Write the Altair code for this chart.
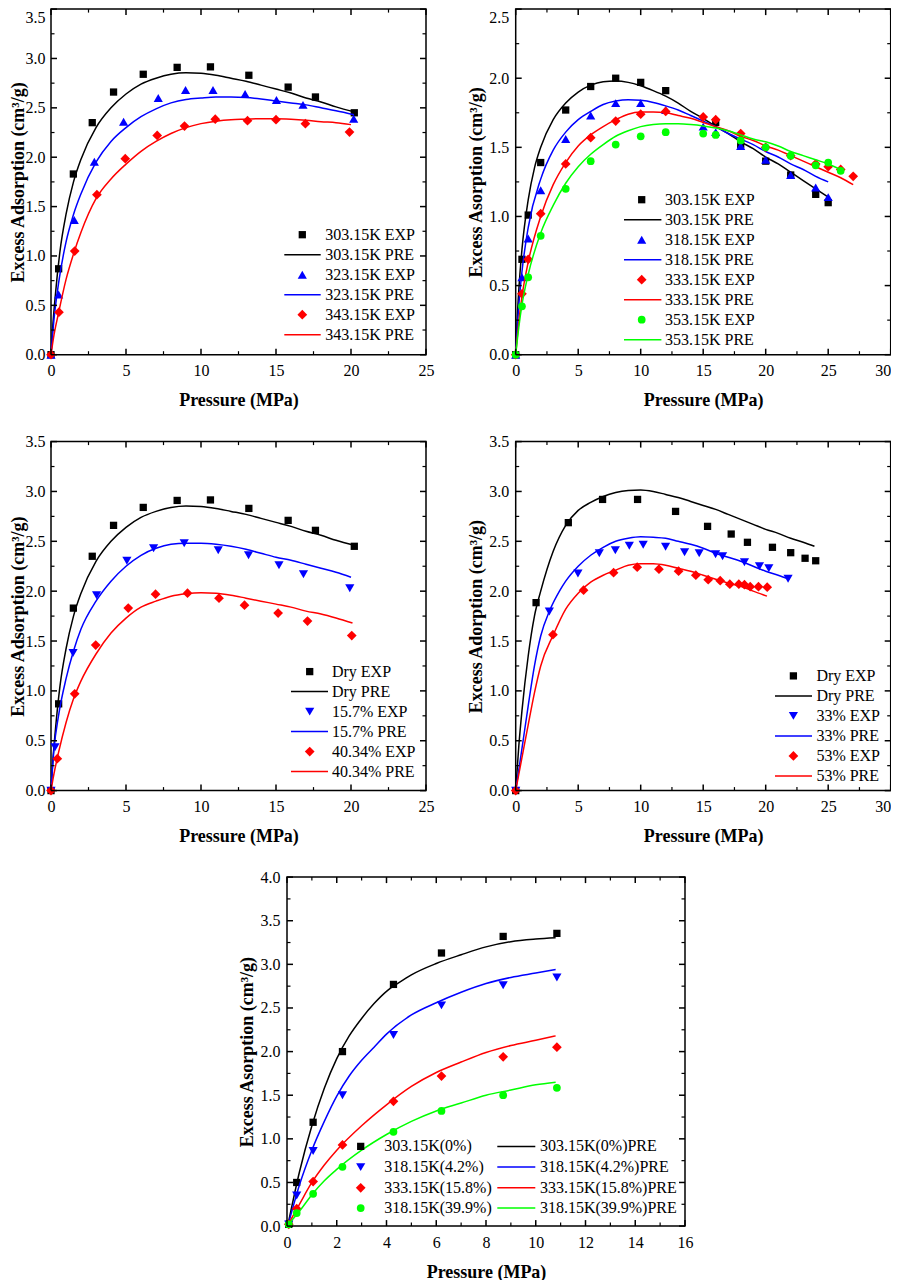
import altair as alt
import pandas as pd

FONT = "Liberation Serif"
BLACK, BLUE, RED, GREEN = "#000000", "#0000ff", "#ff0000", "#00ff00"

# ---------- Panel 1 ----------
P1_E303 = [(0,0),(.51,.87),(1.49,1.83),(2.75,2.35),(4.17,2.66),(6.15,2.84),(8.41,2.91),(10.63,2.915),(13.19,2.83),(15.81,2.71),(17.63,2.61),(20.22,2.45)]
P1_E323 = [(0,0),(.51,.61),(1.55,1.365),(2.89,1.955),(4.84,2.36),(7.15,2.60),(8.97,2.68),(10.8,2.68),(12.94,2.64),(15.03,2.58),(16.8,2.53),(20.18,2.39)]
P1_E343 = [(0,0),(.53,.43),(1.58,1.05),(3.06,1.62),(4.95,1.985),(7.08,2.22),(8.9,2.315),(10.95,2.385),(13.1,2.37),(15.0,2.38),(16.96,2.34),(19.9,2.255)]
P1_C303 = [(0,0),(.1,.25),(.3,.62),(.6,1.05),(1,1.42),(1.5,1.75),(2,1.98),(3,2.3),(4,2.5),(5,2.64),(6,2.74),(7,2.8),(8,2.84),(9,2.855),(10,2.85),(11,2.83),(12,2.8),(13,2.77),(14,2.73),(15,2.69),(16,2.65),(17,2.6),(18,2.56),(19,2.51),(20.2,2.46)]
P1_C323 = [(0,0),(.2,.36),(.5,.72),(1,1.14),(1.5,1.42),(2,1.63),(3,1.95),(4,2.16),(5,2.3),(6,2.41),(7,2.49),(8,2.55),(9,2.585),(10,2.6),(11,2.61),(12,2.61),(13,2.605),(14,2.59),(15,2.57),(16,2.55),(17,2.53),(18,2.5),(19,2.47),(20.2,2.43)]
P1_C343 = [(0,0),(.2,.2),(.5,.42),(1,.76),(1.5,1.02),(2,1.24),(3,1.58),(4,1.78),(5,1.93),(6,2.06),(7,2.16),(8,2.24),(9,2.3),(10,2.34),(11,2.365),(12,2.38),(13,2.385),(14,2.39),(15,2.39),(16,2.385),(17,2.375),(18,2.36),(19,2.35),(20,2.33)]

# ---------- Panel 2 ----------
P2_E303 = [(0,0),(.5,.69),(1,1.01),(2,1.39),(4,1.77),(6,1.94),(8,2.0),(10,1.97),(12,1.91),(16,1.68),(18,1.52),(20,1.40),(22,1.30),(24,1.16),(25,1.10)]
P2_E318 = [(0,0),(.5,.56),(1,.84),(2,1.19),(4,1.56),(6,1.73),(8,1.82),(10,1.82),(12,1.77),(15,1.65),(16,1.61),(18,1.51),(20,1.41),(22,1.30),(24,1.21),(25,1.14)]
P2_E333 = [(0,0),(.5,.44),(1,.69),(2,1.02),(4,1.38),(6,1.57),(8,1.69),(10,1.74),(12,1.76),(15,1.72),(16,1.70),(18,1.60),(20,1.50),(22,1.44),(24,1.38),(25,1.36),(26,1.34),(27,1.29)]
P2_E353 = [(0,0),(.5,.35),(1,.56),(2,.86),(4,1.20),(6,1.40),(8,1.52),(10,1.58),(12,1.61),(15,1.60),(16,1.59),(18,1.55),(20,1.50),(22,1.44),(24,1.37),(25,1.39),(26,1.33)]
P2_C303 = [(0,0),(.1,.22),(.25,.47),(.5,.76),(1,1.12),(1.5,1.35),(2,1.5),(3,1.7),(4,1.82),(5,1.9),(6,1.95),(7,1.975),(8,1.98),(9,1.97),(10,1.945),(11,1.91),(12,1.87),(13,1.82),(14,1.76),(15,1.71),(16,1.65),(17,1.6),(18,1.54),(19,1.49),(20,1.43),(21,1.38),(22,1.32),(23,1.26),(24,1.2),(25,1.14)]
P2_C318 = [(0,0),(.25,.36),(.5,.6),(1,.92),(2,1.27),(3,1.48),(4,1.61),(5,1.7),(6,1.76),(7,1.81),(8,1.835),(9,1.845),(10,1.84),(11,1.825),(12,1.8),(13,1.77),(14,1.73),(15,1.69),(16,1.65),(17,1.6),(18,1.56),(19,1.52),(20,1.47),(21,1.43),(22,1.38),(23,1.34),(24,1.29),(25,1.25)]
P2_C333 = [(0,0),(.25,.24),(.5,.42),(1,.67),(2,1.0),(3,1.23),(4,1.39),(5,1.51),(6,1.59),(7,1.65),(8,1.7),(9,1.74),(10,1.755),(11,1.755),(12,1.75),(13,1.73),(14,1.71),(15,1.68),(16,1.65),(17,1.62),(18,1.58),(19,1.55),(20,1.51),(21,1.48),(22,1.44),(23,1.4),(24,1.36),(25,1.32),(26,1.28),(27,1.23)]
P2_C353 = [(0,0),(.25,.2),(.5,.36),(1,.58),(2,.88),(3,1.08),(4,1.24),(5,1.36),(6,1.45),(7,1.52),(8,1.58),(9,1.62),(10,1.65),(11,1.665),(12,1.67),(13,1.67),(14,1.665),(15,1.655),(16,1.64),(17,1.62),(18,1.59),(19,1.56),(20,1.54),(21,1.51),(22,1.47),(23,1.44),(24,1.41),(25,1.38),(26,1.34)]

# ---------- Panel 3 ----------
P3_E157 = [(0,0),(.27,.435),(1.47,1.38),(3.04,1.96),(5.06,2.305),(6.84,2.43),(8.88,2.48),(11.15,2.41),(13.17,2.36),(15.2,2.26),(16.83,2.17),(19.92,2.03)]
P3_E403 = [(0,0),(.42,.32),(1.58,.97),(2.98,1.46),(5.15,1.83),(6.97,1.97),(9.1,1.98),(11.2,1.93),(12.9,1.86),(15.14,1.78),(17.1,1.70),(20.05,1.555)]
P3_C157 = [(0,0),(.2,.42),(.5,.75),(1,1.12),(1.5,1.4),(2,1.62),(3,1.9),(4,2.1),(5,2.25),(6,2.36),(7,2.43),(8,2.47),(9,2.48),(10,2.48),(11,2.47),(12,2.45),(13,2.42),(14,2.38),(15,2.34),(16,2.31),(17,2.27),(18,2.23),(19,2.19),(20,2.14)]
P3_C403 = [(0,0),(.2,.17),(.5,.38),(1,.68),(1.5,.92),(2,1.1),(3,1.37),(4,1.58),(5,1.73),(6,1.84),(7,1.9),(8,1.95),(9,1.975),(10,1.985),(11,1.98),(12,1.96),(13,1.93),(14,1.9),(15,1.87),(16,1.84),(17,1.8),(18,1.77),(19,1.73),(20.1,1.68)]

# ---------- Panel 4 ----------
P4_EDRY = [(0,0),(1.63,1.885),(4.21,2.687),(6.95,2.92),(9.75,2.92),(12.79,2.80),(15.35,2.65),(17.24,2.573),(18.54,2.49),(20.54,2.44),(22.0,2.386),(23.15,2.33),(24.0,2.305)]
P4_E33 = [(0,0),(2.69,1.797),(4.98,2.178),(6.69,2.38),(7.97,2.41),(9.09,2.456),(10.2,2.466),(11.99,2.446),(13.51,2.39),(14.68,2.38),(15.99,2.37),(16.55,2.35),(18.3,2.29),(19.5,2.25),(20.25,2.23),(21.79,2.125)]
P4_E53 = [(0,0),(2.98,1.563),(5.43,2.01),(7.83,2.185),(9.72,2.24),(11.46,2.22),(13.03,2.2),(14.41,2.16),(15.4,2.115),(16.36,2.105),(17.13,2.07),(17.85,2.07),(18.3,2.065),(18.76,2.045),(19.42,2.045),(20.12,2.04)]
P4_CDRY = [(0,0),(.25,.45),(.5,.8),(1,1.35),(1.5,1.75),(2,2.0),(3,2.4),(4,2.66),(5,2.81),(6,2.89),(7,2.95),(8,2.99),(9,3.01),(10,3.015),(11,3.0),(12,2.97),(13,2.94),(14,2.9),(15,2.86),(16,2.82),(17,2.77),(18,2.72),(19,2.67),(20,2.62),(21,2.58),(22,2.53),(23,2.49),(23.9,2.45)]
P4_C33 = [(0,0),(.5,.42),(1,.85),(1.5,1.25),(2,1.55),(2.7,1.8),(3.5,2.0),(4,2.1),(5,2.25),(6,2.36),(7,2.44),(8,2.5),(9,2.53),(10,2.545),(11,2.54),(12,2.53),(13,2.5),(14,2.47),(15,2.43),(16,2.38),(17,2.34),(18,2.3),(19,2.25),(20,2.2),(21,2.16),(21.9,2.12)]
P4_C53 = [(0,0),(.5,.33),(1,.66),(1.5,.98),(2,1.25),(3,1.56),(4,1.82),(5,1.98),(6,2.09),(7,2.16),(8,2.21),(9,2.26),(10,2.275),(11,2.275),(12,2.26),(13,2.23),(14,2.2),(15,2.16),(16,2.12),(17,2.08),(18,2.05),(19,2.0),(20.1,1.95)]

# ---------- Panel 5 ----------
P5_E0 = [(.07,.02),(.39,.5),(1.05,1.19),(2.23,2.0),(4.28,2.77),(6.21,3.13),(8.69,3.32),(10.85,3.355)]
P5_E42 = [(.07,.02),(.39,.35),(1.05,.86),(2.23,1.5),(4.28,2.19),(6.21,2.53),(8.69,2.76),(10.85,2.85)]
P5_E158 = [(.07,.02),(.39,.2),(1.05,.51),(2.23,.93),(4.28,1.43),(6.21,1.72),(8.69,1.94),(10.85,2.05)]
P5_E399 = [(.07,.02),(.39,.15),(1.05,.37),(2.23,.68),(4.28,1.08),(6.21,1.32),(8.69,1.5),(10.85,1.585)]
P5_C0 = [(.05,.03),(.5,.62),(1,1.15),(1.5,1.58),(2,1.92),(2.5,2.18),(3,2.38),(3.5,2.55),(4,2.69),(4.5,2.79),(5,2.88),(6,3.01),(7,3.11),(8,3.2),(9,3.26),(10,3.29),(10.8,3.305)]
P5_C42 = [(.05,.02),(.5,.47),(1,.87),(1.5,1.2),(2,1.49),(2.5,1.72),(3,1.9),(3.5,2.05),(4,2.2),(5,2.42),(6,2.56),(7,2.68),(8,2.78),(9,2.85),(10,2.9),(10.8,2.94)]
P5_C158 = [(.05,.02),(.5,.25),(1,.5),(1.5,.7),(2,.87),(3,1.15),(4,1.39),(5,1.6),(6,1.76),(7,1.88),(8,1.99),(9,2.07),(10,2.13),(10.8,2.18)]
P5_C399 = [(.05,.02),(.5,.17),(1,.36),(1.5,.52),(2,.65),(3,.87),(4,1.05),(5,1.2),(6,1.32),(7,1.41),(8,1.5),(9,1.56),(10,1.62),(10.8,1.65)]

SIZES = {"square": 53, "triangle-up": 84, "triangle-down": 84, "diamond": 95, "circle": 60}


def rows(pts):
    return pd.DataFrame(pts, columns=["x", "y"])


def seq(step, stop):
    n = int(round(stop / step))
    return [round(i * step, 3) for i in range(n + 1)]


def panel(xmax, xstep, ymax, ytitle, series, legend, w=375, h=349, title_pad=3.5, label_pad=7, top_flush=False):
    xs = alt.Scale(domain=[0, xmax], nice=False, zero=False)
    ys = alt.Scale(domain=[0, ymax], nice=False, zero=False)
    layers = []
    xmaj, ymaj = seq(xstep, xmax), seq(.5, ymax)
    xmin = [v for v in seq(xstep / 2, xmax) if v not in xmaj]
    ymin = [v for v in seq(.25, ymax) if v not in ymaj]

    x_kw, y_kw = {}, {}
    if xmax == 30:
        x_kw["labelAlign"] = {"condition": {"test": "datum.value == 30", "value": "right"}, "value": "center"}
    if top_flush:
        y_kw["labelBaseline"] = {"condition": {"test": f"datum.value == {ymax}", "value": "top"}, "value": "middle"}
    x_axis = alt.Axis(values=xmaj, format="d", title="Pressure (MPa)", grid=False, ticks=False, domain=False,
                      labelFont=FONT, labelFontSize=16, labelColor="black", labelPadding=8, labelFlush=False,
                      labelOverlap=False, titleFont=FONT, titleFontSize=18, titleFontWeight="bold",
                      titleColor="black", titlePadding=13, **x_kw)
    y_axis = alt.Axis(values=ymaj, format=".1f", title=ytitle, grid=False, ticks=False, domain=False,
                      labelFont=FONT, labelFontSize=16, labelColor="black", labelPadding=label_pad, labelFlush=False,
                      labelOverlap=False, titleFont=FONT, titleFontSize=18, titleFontWeight="bold",
                      titleColor="black", titlePadding=title_pad, **y_kw)

    X = alt.X("x:Q", scale=xs, axis=x_axis)
    Y = alt.Y("y:Q", scale=ys, axis=y_axis)
    for shape, color, exp, curve in series:
        layers.append(
            alt.Chart(rows(exp)).mark_point(shape=shape, filled=True, size=SIZES[shape], color=color, opacity=1).encode(x=X, y=Y))
        layers.append(
            alt.Chart(rows(curve)).mark_line(color=color, strokeWidth=1.5, interpolate="monotone").encode(x=X, y=Y))

    for vals, ln, sw in ((xmaj, 6, 1.5), (xmin, 3.5, 1.2)):
        d = pd.DataFrame({"x": vals})
        for a, b in ((h, h - ln), (0, ln)):
            layers.append(alt.Chart(d).mark_rule(color="black", strokeWidth=sw).encode(
                x=X, y=alt.value(a), y2=alt.value(b)))
    for vals, ln, sw in ((ymaj, 6, 1.5), (ymin, 3.5, 1.2)):
        d = pd.DataFrame({"y": vals})
        for a, b in ((0, ln), (w, w - ln)):
            layers.append(alt.Chart(d).mark_rule(color="black", strokeWidth=sw).encode(
                y=Y, x=alt.value(a), x2=alt.value(b)))

    one = pd.DataFrame({"k": [0]})
    for kind, color, shape, text, py, sx, lx1, lx2, tx in legend:
        yy = h - py
        if kind == "s":
            layers.append(alt.Chart(one).mark_point(shape=shape, filled=True, size=SIZES[shape], color=color, opacity=1)
                          .encode(x=alt.value(sx), y=alt.value(yy)))
        else:
            layers.append(alt.Chart(one).mark_rule(color=color, strokeWidth=1.5)
                          .encode(x=alt.value(lx1), x2=alt.value(lx2), y=alt.value(yy)))
        layers.append(alt.Chart(pd.DataFrame({"t": [text]})).mark_text(
            font=FONT, fontSize=16, color="black", align="left", baseline="middle")
            .encode(x=alt.value(tx), y=alt.value(yy), text="t:N"))
    return alt.layer(*layers).properties(width=w, height=h)


def two_line_legend(entries, top, step, sx, lx1, lx2, tx):
    out = []
    for i, (color, shape, lab) in enumerate(entries):
        out.append(("s", color, shape, lab + " EXP", top - 2 * i * step, sx, lx1, lx2, tx))
        out.append(("l", color, shape, lab + " PRE", top - (2 * i + 1) * step, sx, lx1, lx2, tx))
    return out


LEG1 = two_line_legend([(BLACK, "square", "303.15K"), (BLUE, "triangle-up", "323.15K"), (RED, "diamond", "343.15K")],
                       120, 20, 251.3, 233.3, 269.7, 274.3)
LEG2 = two_line_legend([(BLACK, "square", "303.15K"), (BLUE, "triangle-up", "318.15K"), (RED, "diamond", "333.15K"), (GREEN, "circle", "353.15K")],
                       155, 20, 126, 108.3, 145.7, 149.3)
LEG3 = two_line_legend([(BLACK, "square", "Dry"), (BLUE, "triangle-down", "15.7%"), (RED, "diamond", "40.34%")],
                       119, 20, 258.7, 240, 277, 281)
LEG4 = two_line_legend([(BLACK, "square", "Dry"), (BLUE, "triangle-down", "33%"), (RED, "diamond", "53%")],
                       114.7, 20, 277.7, 259.3, 296.3, 300.7)
LEG5 = []
for (color, shape, lab), py in zip([(BLACK, "square", "303.15K(0%)"), (BLUE, "triangle-down", "318.15K(4.2%)"),
                                    (RED, "diamond", "333.15K(15.8%)"), (GREEN, "circle", "318.15K(39.9%)")],
                                   [79.7, 59, 38.3, 18]):
    LEG5.append(("s", color, shape, lab, py, 73.7, 0, 0, 97.3))
    LEG5.append(("l", color, shape, lab + "PRE", py, 0, 210.3, 248.3, 253))

ROW1_H = 345.6
p1 = panel(25, 5, 3.5, "Excess Adsorption (cm³/g)",
           [("square", BLACK, P1_E303, P1_C303), ("triangle-up", BLUE, P1_E323, P1_C323), ("diamond", RED, P1_E343, P1_C343)],
           LEG1, h=ROW1_H, title_pad=-2.5, label_pad=6, top_flush=True)
p2 = panel(30, 5, 2.5, "Excess Asorption (cm³/g)",
           [("square", BLACK, P2_E303, P2_C303), ("triangle-up", BLUE, P2_E318, P2_C318), ("diamond", RED, P2_E333, P2_C333), ("circle", GREEN, P2_E353, P2_C353)],
           LEG2, h=ROW1_H, top_flush=True)
p3 = panel(25, 5, 3.5, "Excess Adsorption (cm³/g)",
           [("square", BLACK, P1_E303, P1_C303), ("triangle-down", BLUE, P3_E157, P3_C157), ("diamond", RED, P3_E403, P3_C403)],
           LEG3, title_pad=-2.5, label_pad=6)
p4 = panel(30, 5, 3.5, "Excess Adorption (cm³/g)",
           [("square", BLACK, P4_EDRY, P4_CDRY), ("triangle-down", BLUE, P4_E33, P4_C33), ("diamond", RED, P4_E53, P4_C53)],
           LEG4)
p5 = panel(16, 2, 4.0, "Excess Asorption (cm³/g)",
           [("square", BLACK, P5_E0, P5_C0), ("triangle-down", BLUE, P5_E42, P5_C42), ("diamond", RED, P5_E158, P5_C158), ("circle", GREEN, P5_E399, P5_C399)],
           LEG5, w=398)

spacer = alt.Chart(pd.DataFrame({"k": [0]})).mark_point(opacity=0).properties(
    width=185, height=10, view=alt.ViewBackground(stroke="transparent"))

chart = alt.vconcat(
    alt.hconcat(p1, p2, spacing=30.7),
    alt.hconcat(p3, p4, spacing=30.7),
    alt.hconcat(spacer, p5, spacing=0),
    spacing=21.5,
).properties(padding={"left": 0, "top": -0.9, "right": -2, "bottom": 0}).configure_view(stroke="black", strokeWidth=1.5)

chart.save("out.html", embed_options={"renderer": "svg", "actions": False})
